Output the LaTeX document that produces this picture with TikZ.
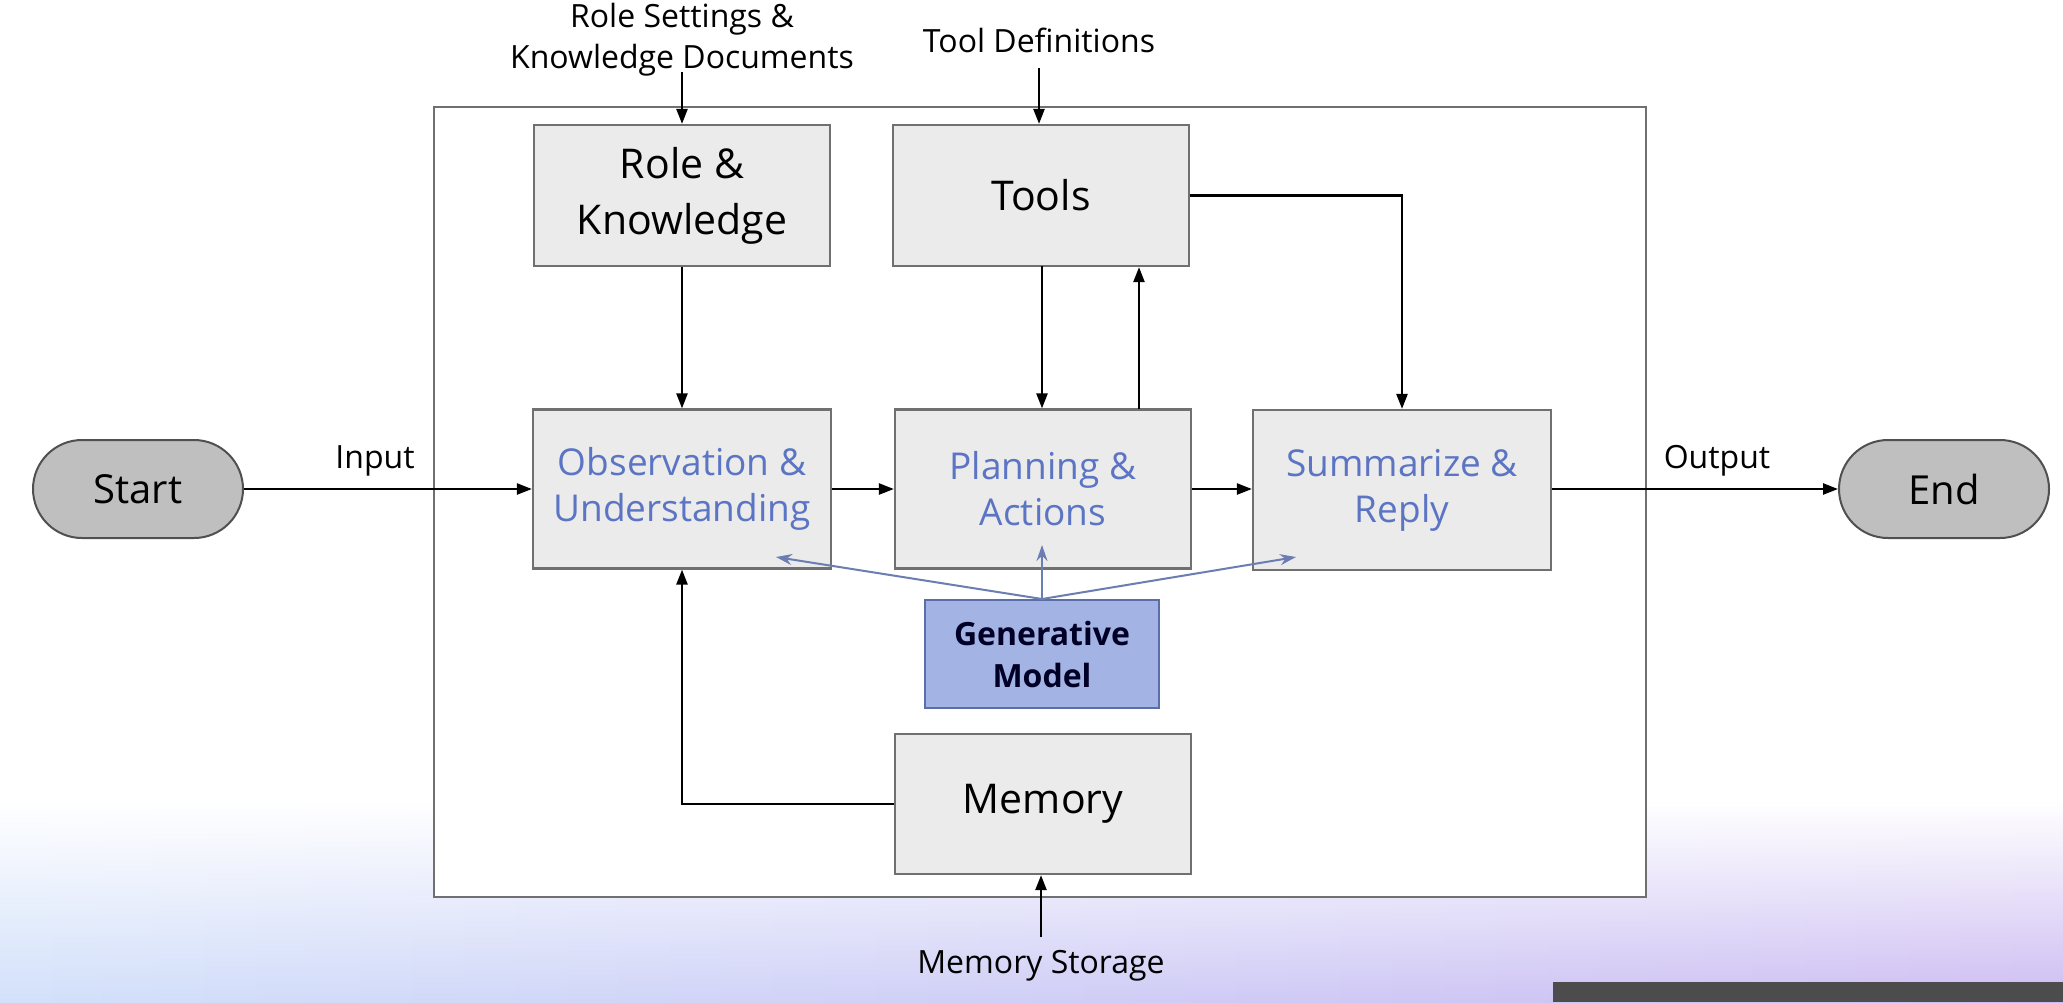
\documentclass[tikz,border=0pt]{standalone}
\usepackage{fontspec}
\setmainfont{Open Sans}
\usetikzlibrary{arrows.meta}
\definecolor{boxfill}{HTML}{EBEBEB}
\definecolor{boxdraw}{HTML}{707070}
\definecolor{bluetxt}{HTML}{5B74C4}
\definecolor{genfill}{HTML}{A3B3E3}
\definecolor{gendraw}{HTML}{5A6EA8}
\definecolor{termfill}{HTML}{BFBFBF}
\definecolor{termdraw}{HTML}{505050}
\definecolor{bgblue}{HTML}{D2E0FA}
\definecolor{bgpurple}{HTML}{CDBCF2}
\tikzset{
  x=1pt, y=-1pt,
  box/.style={draw=boxdraw, line width=2.2pt, fill=boxfill, minimum width=296pt, align=center, inner sep=0pt},
  titletxt/.style={font=\fontsize{41}{56}\selectfont},
  bluebox/.style={font=\fontsize{37}{46}\selectfont, text=bluetxt},
  term/.style={draw=termdraw, line width=2pt, fill=termfill, minimum width=210pt, minimum height=98pt, rounded corners=49pt, font=\fontsize{40}{48}\selectfont},
  lbl/.style={font=\fontsize{32}{41}\selectfont, align=center, inner sep=0pt},
  arr/.style={line width=2.4pt, -{Triangle[length=15pt,width=11pt]}},
  barr/.style={line width=2pt, draw=gendraw!90, -{Stealth[length=16pt,width=11pt]}},
}
\begin{document}
\begin{tikzpicture}
\useasboundingbox (0,0) rectangle (2063,1002);
\fill[white] (0,0) rectangle (2063,1002);
\foreach \i in {0,...,39}{
  \pgfmathsetmacro{\p}{100-\i*100/39}
  \shade[top color=white, bottom color=bgblue!\p!bgpurple, shading angle=0] (\i*51.6-0.5,800) rectangle (\i*51.6+52.1,1002);
}
\fill[black!70] (1553,982) rectangle (2063,1002);
% frame
\draw[boxdraw, line width=2pt, fill=white] (434,107) rectangle (1646,897);
% boxes
\node[box, titletxt, minimum height=141pt] (rk) at (682,195.5) {Role \&\\Knowledge};
\node[box, titletxt, minimum height=141pt] (tools) at (1041,195.5) {Tools};
\node[box, bluebox, minimum width=298pt, minimum height=159pt] (obs) at (682,489) {Observation \&\\Understanding};
\node[box, bluebox, minimum height=159pt] (plan) at (1043,489) {Planning \&\\Actions};
\node[box, bluebox, minimum width=298pt, minimum height=160pt] (sum) at (1402,490) {Summarize \&\\Reply};
\node[draw=gendraw, line width=2pt, fill=genfill, minimum width=234pt, minimum height=108pt, align=center, font=\bfseries\fontsize{32}{42}\selectfont, text=black!85!blue] (gen) at (1042,654) {Generative\\Model};
\node[box, titletxt, minimum height=140pt] (mem) at (1043,804) {Memory};
\node[term] (start) at (138,489) {Start};
\node[term] (end) at (1944,489) {End};
% labels
\node[lbl] (rs) at (682,40) {Role Settings \&\\Knowledge Documents};
\node[lbl] (td) at (1039,40) {Tool Definitions};
\node[lbl] (inp) at (375,461) {Input};
\node[lbl] (outp) at (1717,461) {Output};
\node[lbl] (ms) at (1041,966) {Memory Storage};
\coordinate (rsend) at (682,72);
\coordinate (tdend) at (1039,68);
\coordinate (msend) at (1041,937);
\coordinate (tpl) at (1042,266);
\coordinate (ptl) at (1139,409);
% connectors
\draw[arr] (rsend) -- (rk.north);
\draw[arr] (tdend) -- (tdend |- tools.north);
\draw[arr] (start.east) -- (obs.west);
\draw[arr] (obs.east) -- (plan.west);
\draw[arr] (plan.east) -- (sum.west |- plan.east);
\draw[arr] (sum.east |- end.west) -- (end.west);
\draw[arr] (rk.south) -- (obs.north);
\draw[arr] (tpl) -- (tpl |- plan.north);
\draw[arr] (ptl) -- (ptl |- tools.south);
\draw[arr] (tools.east) -| (sum.north);
\draw[arr] (mem.west) -| (obs.south);
\draw[arr] (msend) -- (msend |- mem.south);
% generative model arrows
\draw[barr] (gen.north) -- (776,557);
\draw[barr] (gen.north) -- (1042,545);
\draw[barr] (gen.north) -- (1296,557);
\end{tikzpicture}
\end{document}
